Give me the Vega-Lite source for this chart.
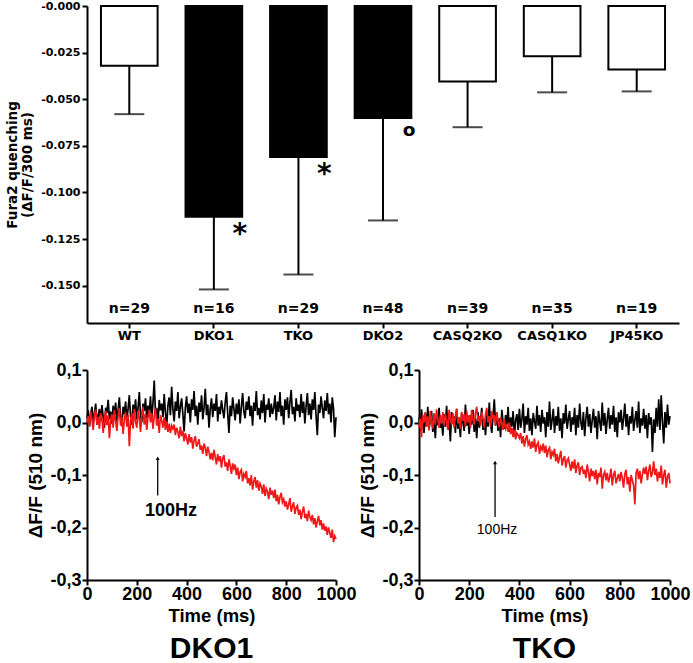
{
"$schema":"https://vega.github.io/schema/vega-lite/v6.json",
"padding":{"left":5,"top":0,"right":2,"bottom":0},
"config":{"view":{"stroke":null},"font":"Liberation Sans","axis":{"grid":false,"domainColor":"black","tickColor":"black","labelColor":"black","titleColor":"black","domainWidth":2,"tickWidth":2}},
"spacing":19,
"datasets":{
"bars":[
{"g":"WT","m":-0.032,"e":-0.058,"n":"n=29","h":"no","sig":""},
{"g":"DKO1","m":-0.113,"e":-0.152,"n":"n=16","h":"yes","sig":"*"},
{"g":"TKO","m":-0.081,"e":-0.144,"n":"n=29","h":"yes","sig":"*"},
{"g":"DKO2","m":-0.060,"e":-0.115,"n":"n=48","h":"yes","sig":"o"},
{"g":"CASQ2KO","m":-0.0405,"e":-0.065,"n":"n=39","h":"no","sig":""},
{"g":"CASQ1KO","m":-0.027,"e":-0.0463,"n":"n=35","h":"no","sig":""},
{"g":"JP45KO","m":-0.034,"e":-0.0458,"n":"n=19","h":"no","sig":""}
],
"dko1":[
{"t":0,"k":0.008,"r":0},{"t":5,"k":0.023,"r":0.012},{"t":10,"k":-0.007,"r":-0.008},{"t":15,"k":0.016,"r":0.02},{"t":20,"k":0.03,"r":0.005},{"t":25,"k":0,"r":-0.014},{"t":30,"k":0.018,"r":0.015},{"t":35,"k":0.036,"r":0.025},{"t":40,"k":-0.004,"r":-0.003},{"t":45,"k":0.013,"r":0.01},
{"t":50,"k":0.026,"r":-0.012},{"t":55,"k":0.003,"r":0.018},{"t":60,"k":0.033,"r":0.006},{"t":65,"k":0.01,"r":-0.02},{"t":70,"k":-0.01,"r":0.008},{"t":75,"k":0.028,"r":0.022},{"t":80,"k":0.018,"r":-0.005},{"t":85,"k":0.043,"r":0.014},{"t":90,"k":0.006,"r":-0.03},{"t":95,"k":0.021,"r":0.004},
{"t":100,"k":-0.002,"r":0.016},{"t":105,"k":0.032,"r":-0.01},{"t":110,"k":0.014,"r":0.024},{"t":115,"k":0.038,"r":0.002},{"t":120,"k":0.002,"r":-0.016},{"t":125,"k":0.024,"r":0.012},{"t":130,"k":0.048,"r":0.028},{"t":135,"k":0.008,"r":-0.006},{"t":140,"k":-0.007,"r":0.01},{"t":145,"k":0.03,"r":-0.022},
{"t":150,"k":0.016,"r":0.006},{"t":155,"k":0.04,"r":0.02},{"t":160,"k":0.004,"r":-0.008},{"t":165,"k":0.026,"r":0.014},{"t":170,"k":0.052,"r":-0.045},{"t":175,"k":0.012,"r":0.004},{"t":180,"k":-0.004,"r":0.018},{"t":185,"k":0.034,"r":-0.012},{"t":190,"k":0.018,"r":0.026},{"t":195,"k":0.044,"r":0.002},
{"t":200,"k":0.006,"r":-0.01},{"t":205,"k":0.028,"r":0.022},{"t":210,"k":0.058,"r":0.008},{"t":215,"k":0.013,"r":-0.018},{"t":220,"k":0,"r":0.014},{"t":225,"k":0.036,"r":0.03},{"t":230,"k":0.022,"r":-0.004},{"t":235,"k":0.046,"r":0.016},{"t":240,"k":0.008,"r":-0.014},{"t":245,"k":0.032,"r":0.01},
{"t":250,"k":0.018,"r":0.024},{"t":255,"k":0.05,"r":0},{"t":260,"k":0.003,"r":0.018},{"t":265,"k":0.038,"r":-0.012},{"t":270,"k":0.08,"r":0.012},{"t":275,"k":0.016,"r":0.028},{"t":280,"k":0.028,"r":-0.006},{"t":285,"k":-0.002,"r":0.008},{"t":290,"k":0.043,"r":-0.02},{"t":295,"k":0.023,"r":0.014},
{"t":300,"k":0.036,"r":0.004},{"t":305,"k":0.01,"r":-0.01},{"t":310,"k":0.054,"r":0.01},{"t":315,"k":0.018,"r":-0.014},{"t":320,"k":-0.007,"r":0.002},{"t":325,"k":0.033,"r":-0.018},{"t":330,"k":0.048,"r":-0.002},{"t":335,"k":0.014,"r":-0.02},{"t":340,"k":0.068,"r":-0.006},{"t":345,"k":0.026,"r":-0.012},
{"t":350,"k":0.002,"r":-0.004},{"t":355,"k":0.04,"r":-0.024},{"t":360,"k":0.022,"r":-0.01},{"t":365,"k":0.058,"r":-0.018},{"t":370,"k":0.008,"r":-0.03},{"t":375,"k":0.03,"r":-0.008},{"t":380,"k":0.046,"r":-0.026},{"t":385,"k":0.016,"r":-0.016},{"t":390,"k":-0.017,"r":-0.036},{"t":395,"k":0.028,"r":-0.02},
{"t":400,"k":0.05,"r":-0.03},{"t":405,"k":0.018,"r":-0.042},{"t":410,"k":0.036,"r":-0.022},{"t":415,"k":0,"r":-0.038},{"t":420,"k":0.044,"r":-0.028},{"t":425,"k":0.024,"r":-0.05},{"t":430,"k":0.06,"r":-0.034},{"t":435,"k":0.012,"r":-0.026},{"t":440,"k":0.032,"r":-0.046},{"t":445,"k":-0.004,"r":-0.04},
{"t":450,"k":0.038,"r":-0.032},{"t":455,"k":0.02,"r":-0.052},{"t":460,"k":0.052,"r":-0.044},{"t":465,"k":0.006,"r":-0.06},{"t":470,"k":0.028,"r":-0.04},{"t":475,"k":0.064,"r":-0.048},{"t":480,"k":0.014,"r":-0.064},{"t":485,"k":0.034,"r":-0.046},{"t":490,"k":-0.01,"r":-0.056},{"t":495,"k":0.026,"r":-0.07},
{"t":500,"k":0.046,"r":-0.058},{"t":505,"k":0.01,"r":-0.072},{"t":510,"k":0.036,"r":-0.052},{"t":515,"k":0.022,"r":-0.066},{"t":520,"k":0.054,"r":-0.08},{"t":525,"k":0.002,"r":-0.06},{"t":530,"k":0.03,"r":-0.074},{"t":535,"k":0.016,"r":-0.064},{"t":540,"k":0.042,"r":-0.086},{"t":545,"k":0.024,"r":-0.068},
{"t":550,"k":0.008,"r":-0.062},{"t":555,"k":0.038,"r":-0.084},{"t":560,"k":0.058,"r":-0.076},{"t":565,"k":0.018,"r":-0.092},{"t":570,"k":-0.02,"r":-0.07},{"t":575,"k":0.032,"r":-0.082},{"t":580,"k":0.012,"r":-0.098},{"t":585,"k":0.048,"r":-0.078},{"t":590,"k":0.026,"r":-0.088},{"t":595,"k":0.004,"r":-0.08},
{"t":600,"k":0.036,"r":-0.1},{"t":605,"k":0.016,"r":-0.086},{"t":610,"k":0.044,"r":-0.108},{"t":615,"k":-0.002,"r":-0.094},{"t":620,"k":0.03,"r":-0.09},{"t":625,"k":0.056,"r":-0.112},{"t":630,"k":0.02,"r":-0.098},{"t":635,"k":0.008,"r":-0.104},{"t":640,"k":0.04,"r":-0.092},{"t":645,"k":0.024,"r":-0.116},
{"t":650,"k":0.05,"r":-0.106},{"t":655,"k":0.012,"r":-0.12},{"t":660,"k":0.032,"r":-0.1},{"t":665,"k":-0.006,"r":-0.128},{"t":670,"k":0.038,"r":-0.112},{"t":675,"k":0.022,"r":-0.104},{"t":680,"k":0.06,"r":-0.124},{"t":685,"k":0.014,"r":-0.11},{"t":690,"k":0.028,"r":-0.13},{"t":695,"k":0.006,"r":-0.116},
{"t":700,"k":0.042,"r":-0.122},{"t":705,"k":0.018,"r":-0.136},{"t":710,"k":0.054,"r":-0.118},{"t":715,"k":0,"r":-0.14},{"t":720,"k":0.034,"r":-0.126},{"t":725,"k":0.024,"r":-0.132},{"t":730,"k":0.046,"r":-0.146},{"t":735,"k":0.01,"r":-0.124},{"t":740,"k":0.036,"r":-0.138},{"t":745,"k":0.016,"r":-0.13},
{"t":750,"k":0.028,"r":-0.144},{"t":755,"k":0.052,"r":-0.128},{"t":760,"k":0.004,"r":-0.15},{"t":765,"k":0.04,"r":-0.138},{"t":770,"k":0.02,"r":-0.156},{"t":775,"k":0.058,"r":-0.142},{"t":780,"k":0.012,"r":-0.134},{"t":785,"k":0.032,"r":-0.152},{"t":790,"k":-0.004,"r":-0.146},{"t":795,"k":0.044,"r":-0.16},
{"t":800,"k":0.024,"r":-0.15},{"t":805,"k":0.048,"r":-0.166},{"t":810,"k":0.008,"r":-0.156},{"t":815,"k":0.038,"r":-0.144},{"t":820,"k":0.062,"r":-0.17},{"t":825,"k":0.016,"r":-0.16},{"t":830,"k":0.03,"r":-0.152},{"t":835,"k":0.002,"r":-0.174},{"t":840,"k":0.046,"r":-0.162},{"t":845,"k":0.022,"r":-0.158},
{"t":850,"k":0.034,"r":-0.176},{"t":855,"k":0.01,"r":-0.166},{"t":860,"k":0.054,"r":-0.184},{"t":865,"k":0.018,"r":-0.17},{"t":870,"k":0.04,"r":-0.16},{"t":875,"k":-0.002,"r":-0.182},{"t":880,"k":0.032,"r":-0.174},{"t":885,"k":0.056,"r":-0.188},{"t":890,"k":0.014,"r":-0.168},{"t":895,"k":0.036,"r":-0.18},
{"t":900,"k":0.006,"r":-0.186},{"t":905,"k":0.044,"r":-0.176},{"t":910,"k":0.024,"r":-0.194},{"t":915,"k":0.058,"r":-0.182},{"t":920,"k":0.012,"r":-0.2},{"t":925,"k":-0.024,"r":-0.188},{"t":930,"k":0.034,"r":-0.178},{"t":935,"k":0.018,"r":-0.196},{"t":940,"k":0.05,"r":-0.186},{"t":945,"k":0.028,"r":-0.204},
{"t":950,"k":0.008,"r":-0.192},{"t":955,"k":0.042,"r":-0.206},{"t":960,"k":0.022,"r":-0.198},{"t":965,"k":0.056,"r":-0.214},{"t":970,"k":0.016,"r":-0.2},{"t":975,"k":0.036,"r":-0.21},{"t":980,"k":0,"r":-0.22},{"t":985,"k":0.048,"r":-0.204},{"t":990,"k":0.026,"r":-0.228},{"t":995,"k":-0.028,"r":-0.216},
{"t":1000,"k":0.01,"r":-0.222}
],
"tko":[
{"t":0,"k":0.01,"r":-0.01},{"t":5,"k":-0.015,"r":0.008},{"t":10,"k":0.025,"r":-0.028},{"t":15,"k":0,"r":0.015},{"t":20,"k":-0.02,"r":0},{"t":25,"k":0.018,"r":0.02},{"t":30,"k":-0.008,"r":-0.008},{"t":35,"k":0.03,"r":0.012},{"t":40,"k":-0.012,"r":-0.015},{"t":45,"k":0.005,"r":0.022},
{"t":50,"k":0.022,"r":0.004},{"t":55,"k":-0.018,"r":-0.012},{"t":60,"k":0.008,"r":0.018},{"t":65,"k":-0.03,"r":-0.004},{"t":70,"k":0.014,"r":0.025},{"t":75,"k":-0.005,"r":0.006},{"t":80,"k":0.028,"r":-0.01},{"t":85,"k":-0.01,"r":0.014},{"t":90,"k":0.002,"r":-0.002},{"t":95,"k":-0.025,"r":0.02},
{"t":100,"k":0.016,"r":-0.006},{"t":105,"k":-0.008,"r":0.016},{"t":110,"k":0.032,"r":0.002},{"t":115,"k":-0.014,"r":-0.014},{"t":120,"k":0.006,"r":0.024},{"t":125,"k":-0.036,"r":0.008},{"t":130,"k":0.02,"r":-0.004},{"t":135,"k":-0.002,"r":0.018},{"t":140,"k":0.012,"r":-0.01},{"t":145,"k":-0.02,"r":0.012},
{"t":150,"k":0.026,"r":0.026},{"t":155,"k":-0.012,"r":-0.002},{"t":160,"k":0.004,"r":0.01},{"t":165,"k":-0.028,"r":-0.012},{"t":170,"k":0.018,"r":0.02},{"t":175,"k":0,"r":0.004},{"t":180,"k":-0.016,"r":0.016},{"t":185,"k":0.034,"r":-0.008},{"t":190,"k":-0.006,"r":0.022},{"t":195,"k":0.01,"r":0},
{"t":200,"k":-0.022,"r":0.014},{"t":205,"k":0.014,"r":-0.01},{"t":210,"k":-0.004,"r":0.024},{"t":215,"k":0.024,"r":0.006},{"t":220,"k":-0.018,"r":-0.004},{"t":225,"k":0.008,"r":0.018},{"t":230,"k":-0.03,"r":0.03},{"t":235,"k":0.02,"r":0.002},{"t":240,"k":-0.01,"r":0.012},{"t":245,"k":0.002,"r":-0.006},
{"t":250,"k":0.028,"r":0.02},{"t":255,"k":-0.014,"r":0.008},{"t":260,"k":0.006,"r":-0.01},{"t":265,"k":-0.024,"r":0.016},{"t":270,"k":0.016,"r":0.028},{"t":275,"k":-0.008,"r":0},{"t":280,"k":0.038,"r":0.012},{"t":285,"k":-0.002,"r":-0.008},{"t":290,"k":-0.02,"r":0.022},{"t":295,"k":0.012,"r":0.006},
{"t":300,"k":0.044,"r":0.014},{"t":305,"k":-0.006,"r":-0.004},{"t":310,"k":0.018,"r":0.02},{"t":315,"k":-0.016,"r":0.002},{"t":320,"k":0.008,"r":-0.01},{"t":325,"k":-0.028,"r":0.01},{"t":330,"k":0.024,"r":-0.002},{"t":335,"k":0,"r":-0.014},{"t":340,"k":-0.012,"r":0.006},{"t":345,"k":0.014,"r":-0.012},
{"t":350,"k":-0.004,"r":-0.006},{"t":355,"k":0.03,"r":-0.018},{"t":360,"k":-0.018,"r":0},{"t":365,"k":0.01,"r":-0.022},{"t":370,"k":-0.008,"r":-0.01},{"t":375,"k":0.022,"r":-0.028},{"t":380,"k":-0.026,"r":-0.014},{"t":385,"k":0.004,"r":-0.032},{"t":390,"k":0.016,"r":-0.02},{"t":395,"k":-0.014,"r":-0.024},
{"t":400,"k":0.026,"r":-0.03},{"t":405,"k":-0.01,"r":-0.02},{"t":410,"k":0.006,"r":-0.04},{"t":415,"k":0.036,"r":-0.026},{"t":420,"k":-0.02,"r":-0.046},{"t":425,"k":0.012,"r":-0.032},{"t":430,"k":-0.004,"r":-0.024},{"t":435,"k":0.028,"r":-0.042},{"t":440,"k":-0.016,"r":-0.036},{"t":445,"k":0.008,"r":-0.05},
{"t":450,"k":-0.024,"r":-0.036},{"t":455,"k":0.018,"r":-0.048},{"t":460,"k":0.002,"r":-0.03},{"t":465,"k":-0.012,"r":-0.056},{"t":470,"k":0.032,"r":-0.042},{"t":475,"k":-0.006,"r":-0.038},{"t":480,"k":0.014,"r":-0.06},{"t":485,"k":-0.018,"r":-0.046},{"t":490,"k":0.024,"r":-0.052},{"t":495,"k":-0.002,"r":-0.04},
{"t":500,"k":0.01,"r":-0.058},{"t":505,"k":-0.028,"r":-0.044},{"t":510,"k":0.02,"r":-0.066},{"t":515,"k":-0.008,"r":-0.052},{"t":520,"k":0.04,"r":-0.048},{"t":525,"k":-0.014,"r":-0.07},{"t":530,"k":0.004,"r":-0.056},{"t":535,"k":0.026,"r":-0.062},{"t":540,"k":-0.02,"r":-0.05},{"t":545,"k":0.012,"r":-0.074},
{"t":550,"k":-0.006,"r":-0.06},{"t":555,"k":0.03,"r":-0.078},{"t":560,"k":-0.016,"r":-0.066},{"t":565,"k":0.008,"r":-0.054},{"t":570,"k":-0.03,"r":-0.082},{"t":575,"k":0.018,"r":-0.07},{"t":580,"k":-0.002,"r":-0.064},{"t":585,"k":0.034,"r":-0.086},{"t":590,"k":-0.012,"r":-0.072},{"t":595,"k":0.006,"r":-0.068},
{"t":600,"k":0.022,"r":-0.08},{"t":605,"k":-0.018,"r":-0.092},{"t":610,"k":0.01,"r":-0.074},{"t":615,"k":-0.004,"r":-0.088},{"t":620,"k":0.028,"r":-0.07},{"t":625,"k":-0.024,"r":-0.096},{"t":630,"k":0.014,"r":-0.082},{"t":635,"k":-0.01,"r":-0.076},{"t":640,"k":0.036,"r":-0.1},{"t":645,"k":0,"r":-0.086},
{"t":650,"k":-0.014,"r":-0.084},{"t":655,"k":0.02,"r":-0.098},{"t":660,"k":-0.026,"r":-0.09},{"t":665,"k":0.008,"r":-0.106},{"t":670,"k":0.03,"r":-0.08},{"t":675,"k":-0.008,"r":-0.094},{"t":680,"k":0.016,"r":-0.112},{"t":685,"k":-0.02,"r":-0.088},{"t":690,"k":0.004,"r":-0.102},{"t":695,"k":0.026,"r":-0.092},
{"t":700,"k":-0.01,"r":-0.108},{"t":705,"k":0.012,"r":-0.09},{"t":710,"k":-0.032,"r":-0.118},{"t":715,"k":0.022,"r":-0.096},{"t":720,"k":0.002,"r":-0.104},{"t":725,"k":-0.016,"r":-0.086},{"t":730,"k":0.038,"r":-0.126},{"t":735,"k":-0.006,"r":-0.1},{"t":740,"k":0.018,"r":-0.094},{"t":745,"k":-0.022,"r":-0.11},
{"t":750,"k":0.006,"r":-0.096},{"t":755,"k":0.028,"r":-0.114},{"t":760,"k":-0.012,"r":-0.104},{"t":765,"k":0.014,"r":-0.088},{"t":770,"k":-0.004,"r":-0.12},{"t":775,"k":0.032,"r":-0.1},{"t":780,"k":-0.018,"r":-0.092},{"t":785,"k":0.01,"r":-0.116},{"t":790,"k":-0.028,"r":-0.106},{"t":795,"k":0.02,"r":-0.098},
{"t":800,"k":0,"r":-0.112},{"t":805,"k":0.024,"r":-0.094},{"t":810,"k":-0.014,"r":-0.106},{"t":815,"k":0.008,"r":-0.124},{"t":820,"k":0.036,"r":-0.098},{"t":825,"k":-0.008,"r":-0.09},{"t":830,"k":0.016,"r":-0.118},{"t":835,"k":-0.024,"r":-0.104},{"t":840,"k":0.012,"r":-0.132},{"t":845,"k":-0.002,"r":-0.1},
{"t":850,"k":0.03,"r":-0.11},{"t":855,"k":-0.016,"r":-0.12},{"t":860,"k":0.004,"r":-0.156},{"t":865,"k":0.022,"r":-0.096},{"t":870,"k":-0.01,"r":-0.088},{"t":875,"k":0.04,"r":-0.108},{"t":880,"k":-0.02,"r":-0.092},{"t":885,"k":0.008,"r":-0.116},{"t":890,"k":-0.006,"r":-0.1},{"t":895,"k":0.026,"r":-0.086},
{"t":900,"k":-0.012,"r":-0.098},{"t":905,"k":0.014,"r":-0.084},{"t":910,"k":-0.03,"r":-0.11},{"t":915,"k":0.018,"r":-0.092},{"t":920,"k":-0.004,"r":-0.08},{"t":925,"k":0.01,"r":-0.104},{"t":930,"k":-0.056,"r":-0.096},{"t":935,"k":0.006,"r":-0.074},{"t":940,"k":-0.02,"r":-0.1},{"t":945,"k":0.028,"r":-0.088},
{"t":950,"k":-0.008,"r":-0.112},{"t":955,"k":0.044,"r":-0.094},{"t":960,"k":-0.014,"r":-0.106},{"t":965,"k":0.052,"r":-0.082},{"t":970,"k":0.002,"r":-0.118},{"t":975,"k":-0.04,"r":-0.1},{"t":980,"k":0.02,"r":-0.09},{"t":985,"k":-0.01,"r":-0.124},{"t":990,"k":0.034,"r":-0.104},{"t":995,"k":-0.004,"r":-0.096},
{"t":1000,"k":0.012,"r":-0.116}
]
},
"vconcat":[
{
"width":592,"height":317,
"data":{"name":"bars"},
"encoding":{"x":{"field":"g","type":"nominal","sort":null,"scale":{"paddingInner":0.33,"paddingOuter":0.165},
 "axis":{"title":null,"labelAngle":0,"labelFont":"DejaVu Sans","labelFontWeight":"bold","labelFontSize":13,"tickSize":5,"labelPadding":1}}},
"layer":[
{"mark":{"type":"bar","stroke":"black","strokeWidth":2},
 "encoding":{"y":{"field":"m","type":"quantitative","scale":{"domain":[-0.17,0],"nice":false,"zero":false},
   "axis":{"values":[-0.15,-0.125,-0.1,-0.075,-0.05,-0.025,0],"labelExpr":"'-' + format(abs(datum.value), '.3f')","labelFont":"DejaVu Sans","labelFontWeight":"bold","labelFontSize":11,"tickSize":5,"labelPadding":2,
   "title":["Fura2 quenching","(ΔF/F/300 ms)"],"titleFont":"DejaVu Sans","titleFontSize":13.5,"titleFontWeight":"bold","titleLineHeight":15,"titlePadding":6}},
  "y2":{"datum":0},
  "fill":{"field":"h","type":"nominal","scale":{"domain":["no","yes"],"range":["white","black"]},"legend":null}}},
{"mark":{"type":"rule","strokeWidth":2,"color":"black"},"encoding":{"y":{"field":"m","type":"quantitative"},"y2":{"field":"e"}}},
{"mark":{"type":"tick","thickness":2,"size":30,"color":"black"},"encoding":{"y":{"field":"e","type":"quantitative"}}},
{"mark":{"type":"rule","strokeWidth":2,"color":"black"},"encoding":{"y":{"datum":0}}},
{"mark":{"type":"text","font":"DejaVu Sans","fontWeight":"bold","fontSize":14,"baseline":"middle"},"encoding":{"y":{"datum":-0.1625},"text":{"field":"n"}}},
{"transform":[{"filter":"datum.sig == '*'"}],"mark":{"type":"text","font":"DejaVu Sans","fontWeight":"bold","fontSize":28,"baseline":"middle","dx":26,"dy":18},"encoding":{"y":{"field":"m","type":"quantitative"},"text":{"field":"sig"}}},
{"transform":[{"filter":"datum.sig == 'o'"}],"mark":{"type":"text","font":"DejaVu Sans","fontWeight":"bold","fontSize":18.5,"baseline":"middle","dx":26,"dy":12},"encoding":{"y":{"field":"m","type":"quantitative"},"text":{"field":"sig"}}}
]
},
{
"spacing":1,
"hconcat":[
{
"width":249,"height":210,
"title":{"text":"DKO1","orient":"bottom","font":"Liberation Sans","fontSize":30,"fontWeight":"bold","offset":9,"color":"black"},
"layer":[
{"data":{"name":"dko1"},"transform":[{"fold":["k","r"],"as":["s","v"]}],
 "mark":{"type":"line","strokeWidth":1.7},
 "encoding":{
  "x":{"field":"t","type":"quantitative","scale":{"domain":[0,1000],"nice":false},
   "axis":{"values":[0,100,200,300,400,500,600,700,800,900,1000],"labelExpr":"datum.value % 200 == 0 ? format(datum.value, 'd') : ''","tickSize":{"condition":{"test":"datum.value % 200 == 0","value":5},"value":-4},"labelFontSize":18,"labelFontWeight":"bold","labelPadding":0,"labelFlush":false,"title":"Time (ms)","titleFontSize":18.5,"titleFontWeight":"bold","titlePadding":3}},
  "y":{"field":"v","type":"quantitative","scale":{"domain":[-0.3,0.1],"nice":false},
   "axis":{"values":[-0.3,-0.25,-0.2,-0.15,-0.1,-0.05,0,0.05,0.1],"labelExpr":"round(datum.value*20) % 2 != 0 ? '' : (datum.value < -0.001 ? '-' : '') + replace(format(abs(datum.value), '.1f'), '.', ',')","tickSize":{"condition":{"test":"round(datum.value*20) % 2 == 0","value":5},"value":-4},"labelFontSize":18,"labelFontWeight":"bold","labelPadding":1,"labelFlush":false,"title":"ΔF/F (510 nm)","titleFontSize":19,"titleFontWeight":"bold","titlePadding":4}},
  "color":{"field":"s","type":"nominal","scale":{"domain":["k","r"],"range":["#000000","#f01818"]},"legend":null}}},
{"data":{"values":[{}]},"mark":{"type":"rule","strokeWidth":1.3,"color":"black"},"encoding":{"x":{"datum":284},"y":{"datum":-0.139},"y2":{"datum":-0.07}}},
{"data":{"values":[{}]},"mark":{"type":"point","shape":"triangle-up","filled":true,"size":16,"color":"black","opacity":1},"encoding":{"x":{"datum":284},"y":{"datum":-0.068}}},
{"data":{"values":[{}]},"mark":{"type":"text","fontSize":18,"fontWeight":"bold","baseline":"middle"},"encoding":{"x":{"datum":337},"y":{"datum":-0.168},"text":{"value":"100Hz"}}}
]
},
{
"width":251,"height":210,
"title":{"text":"TKO","orient":"bottom","font":"Liberation Sans","fontSize":30,"fontWeight":"bold","offset":9,"color":"black"},
"layer":[
{"data":{"name":"tko"},"transform":[{"fold":["k","r"],"as":["s","v"]}],
 "mark":{"type":"line","strokeWidth":1.7},
 "encoding":{
  "x":{"field":"t","type":"quantitative","scale":{"domain":[0,1000],"nice":false},
   "axis":{"values":[0,100,200,300,400,500,600,700,800,900,1000],"labelExpr":"datum.value % 200 == 0 ? format(datum.value, 'd') : ''","tickSize":{"condition":{"test":"datum.value % 200 == 0","value":5},"value":-4},"labelFontSize":18,"labelFontWeight":"bold","labelPadding":0,"labelFlush":false,"title":"Time (ms)","titleFontSize":18.5,"titleFontWeight":"bold","titlePadding":3}},
  "y":{"field":"v","type":"quantitative","scale":{"domain":[-0.3,0.1],"nice":false},
   "axis":{"values":[-0.3,-0.25,-0.2,-0.15,-0.1,-0.05,0,0.05,0.1],"labelExpr":"round(datum.value*20) % 2 != 0 ? '' : (datum.value < -0.001 ? '-' : '') + replace(format(abs(datum.value), '.1f'), '.', ',')","tickSize":{"condition":{"test":"round(datum.value*20) % 2 == 0","value":5},"value":-4},"labelFontSize":18,"labelFontWeight":"bold","labelPadding":1,"labelFlush":false,"title":"ΔF/F (510 nm)","titleFontSize":19,"titleFontWeight":"bold","titlePadding":4}},
  "color":{"field":"s","type":"nominal","scale":{"domain":["k","r"],"range":["#000000","#f01818"]},"legend":null}}},
{"data":{"values":[{}]},"mark":{"type":"rule","strokeWidth":1.3,"color":"black"},"encoding":{"x":{"datum":303},"y":{"datum":-0.18},"y2":{"datum":-0.078}}},
{"data":{"values":[{}]},"mark":{"type":"point","shape":"triangle-up","filled":true,"size":16,"color":"black","opacity":1},"encoding":{"x":{"datum":303},"y":{"datum":-0.076}}},
{"data":{"values":[{}]},"mark":{"type":"text","fontSize":14,"baseline":"middle"},"encoding":{"x":{"datum":311},"y":{"datum":-0.205},"text":{"value":"100Hz"}}}
]
}
]
}
]
}
